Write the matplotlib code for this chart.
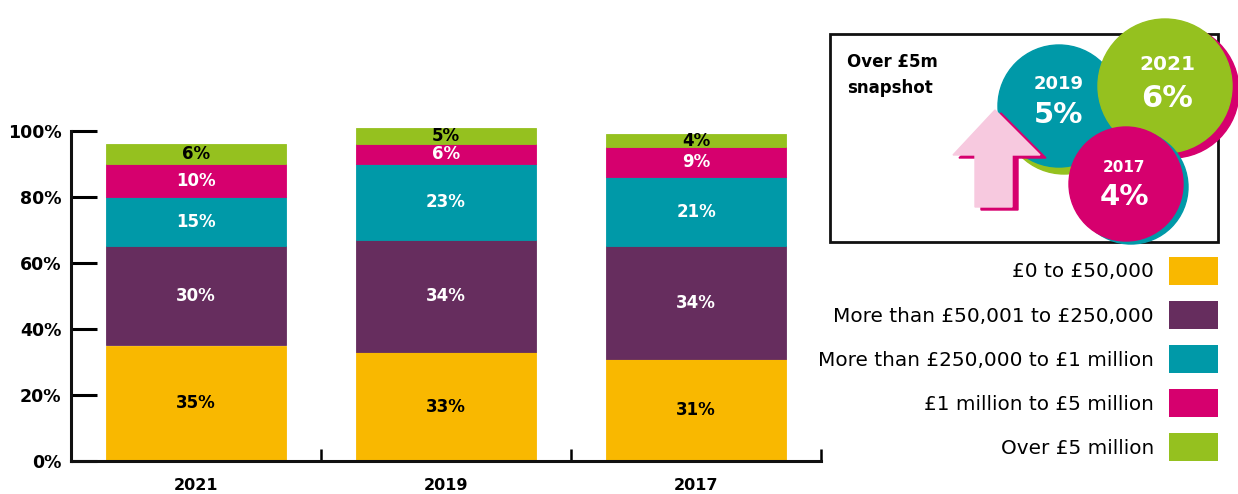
import numpy as np
import matplotlib
matplotlib.use("Agg")
import matplotlib.pyplot as plt
from matplotlib.patches import Circle, Polygon, Rectangle, Patch

years = ["2021", "2019", "2017"]
bands = ["£0 to £50,000",
         "More than £50,001 to £250,000",
         "More than £250,000 to £1 million",
         "£1 million to £5 million",
         "Over £5 million"]
up_to_50k = [35, 33, 31]
k50_to_250k = [30, 34, 34]
k250_to_1m = [15, 23, 21]
m1_to_5m = [10, 6, 9]
over_5m = [6, 5, 4]
yticks = [0, 20, 40, 60, 80, 100]

series = [up_to_50k, k50_to_250k, k250_to_1m, m1_to_5m, over_5m]
colors = ["#f9b800", "#662d5e", "#0099a8", "#d6006e", "#95c11f"]
text_colors = ["black", "white", "white", "white", "black"]

W, H = 1238, 494
fig = plt.figure(figsize=(W / 100, H / 100), dpi=100)
bold = dict(family="DejaVu Sans", weight="bold")

ax = fig.add_axes([71 / W, 1 - 461 / H, 750 / W, 330 / H])
x = np.arange(len(years))
bottom = np.zeros(len(years))
for vals, col, tc in zip(series, colors, text_colors):
    vals = np.array(vals, dtype=float)
    ax.bar(x, vals, 0.72, bottom=bottom, color=col, edgecolor=col,
           linewidth=0.6, clip_on=False, zorder=2)
    for xi, b, v in zip(x, bottom, vals):
        ax.text(xi, b + v / 2, f"{v:.0f}%", ha="center", va="center",
                color=tc, fontsize=12, zorder=3, **bold)
    bottom += vals

ax.set_xlim(-0.5, 2.5)
ax.set_ylim(0, 100)
for s in ["top", "right"]:
    ax.spines[s].set_visible(False)
for s in ["left", "bottom"]:
    ax.spines[s].set_linewidth(2.2)
    ax.spines[s].set_color("#111111")
    ax.spines[s].set_zorder(4)
ax.set_yticks(yticks)
ax.set_yticklabels([f"{t}%" for t in yticks], fontsize=12.5, **bold)
ax.tick_params(axis="y", direction="in", length=19, width=2.2, pad=7)
ax.set_xticks([0.5, 1.5, 2.5])
ax.set_xticklabels([])
ax.set_xticks(x, minor=True)
ax.set_xticklabels(years, minor=True, fontsize=11.5, **bold)
ax.tick_params(axis="x", which="major", direction="in", length=9, width=1.8)
ax.tick_params(axis="x", which="minor", length=0, pad=12)

# legend to the right, labels before swatches
handles = [Patch(facecolor=c, edgecolor="none") for c in colors]
fig.legend(handles, bands, loc="upper right", markerfirst=False,
           bbox_to_anchor=(1218 / W, 1 - 257 / H), frameon=False,
           prop=dict(family="DejaVu Sans", size=14.4), handlelength=2.45,
           handleheight=1.78, labelspacing=0.8, handletextpad=0.75,
           borderpad=0, borderaxespad=0)

# snapshot panel drawn in pixel coordinates
ov = fig.add_axes([0, 0, 1, 1], zorder=5)
ov.set_xlim(0, W)
ov.set_ylim(H, 0)
ov.axis("off")
ov.add_patch(Rectangle((830, 34), 388, 208, fill=False, lw=2, ec="#111111"))
ov.text(847, 75, "Over £5m\nsnapshot", fontsize=12, va="center", ha="left",
        linespacing=1.6, **bold)

# 2019 circle with green shadow
ov.add_patch(Circle((1064, 113), 61, color=colors[4], zorder=1))
ov.add_patch(Circle((1059, 106), 61, color=colors[2], zorder=2))
ov.text(1059, 84, years[1], color="white", fontsize=13, ha="center",
        va="center", zorder=6, **bold)
ov.text(1059, 115, f"{over_5m[1]}%", color="white", fontsize=21,
        ha="center", va="center", zorder=6, **bold)
# 2021 circle with pink shadow
ov.add_patch(Circle((1172, 91), 67, color=colors[3], zorder=3))
ov.add_patch(Circle((1165, 86), 67, color=colors[4], zorder=4))
ov.text(1167, 64, years[0], color="white", fontsize=14.5, ha="center",
        va="center", zorder=6, **bold)
ov.text(1167, 98, f"{over_5m[0]}%", color="white", fontsize=22,
        ha="center", va="center", zorder=6, **bold)
# 2017 circle with teal shadow
ov.add_patch(Circle((1131, 187), 57, color=colors[2], zorder=5))
ov.add_patch(Circle((1126, 184), 57, color=colors[3], zorder=5.1))
ov.text(1124, 167, years[2], color="white", fontsize=11, ha="center",
        va="center", zorder=6, **bold)
ov.text(1124, 197, f"{over_5m[2]}%", color="white", fontsize=21,
        ha="center", va="center", zorder=6, **bold)

# upward arrow with shadow
arrow = np.array([[995, 110], [1040, 155], [1012, 155], [1012, 207],
                  [975, 207], [975, 155], [953, 155]])
ov.add_patch(Polygon(arrow + [6, 3], closed=True, color=colors[3], zorder=2.5))
ov.add_patch(Polygon(arrow, closed=True, color="#f7c9df", zorder=2.6))

fig.savefig("out.png", dpi=100)
